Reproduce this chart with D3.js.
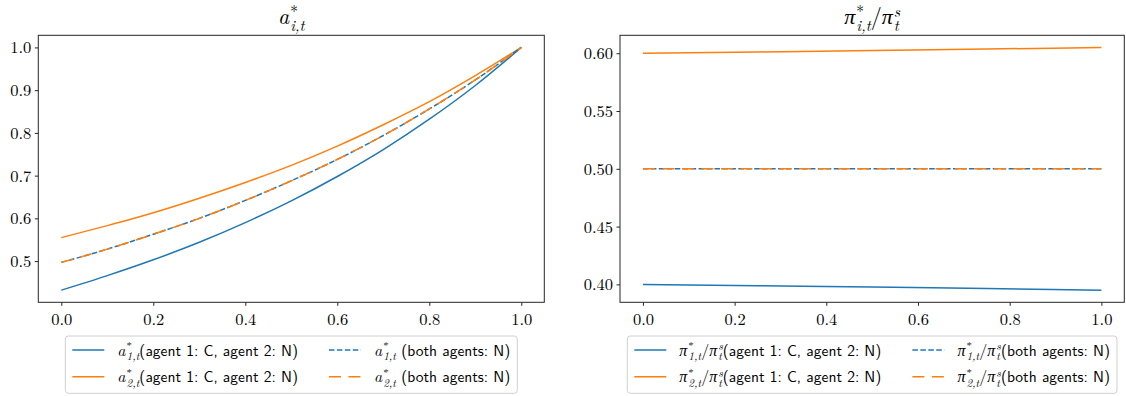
<!DOCTYPE html>
<html>
<head>
<meta charset="utf-8">
<script src="https://cdn.jsdelivr.net/npm/d3@7"></script>
<style>
  body { margin: 0; background: #fff; }
</style>
</head>
<body>
<svg id="chart" width="1126" height="396"></svg>
<script>
// ---- data ----
var tGrid = [0, 0.1, 0.2, 0.3, 0.4, 0.5, 0.6, 0.7, 0.8, 0.9, 1.0];
// a*_{i,t}
var a1_CN = [0.432, 0.466, 0.503, 0.544, 0.590, 0.641, 0.698, 0.761, 0.832, 0.911, 1.0];
var a2_CN = [0.555, 0.583, 0.613, 0.647, 0.684, 0.724, 0.769, 0.819, 0.873, 0.934, 1.0];
var a1_NN = [0.497, 0.528, 0.563, 0.600, 0.642, 0.688, 0.738, 0.794, 0.856, 0.924, 1.0];
var a2_NN = [0.497, 0.528, 0.563, 0.600, 0.642, 0.688, 0.738, 0.794, 0.856, 0.924, 1.0];

var tPi = [0, 0.25, 0.5, 0.75, 1.0];
// pi*_{i,t} / pi^s_t
var pi1_CN = [0.400, 0.3989, 0.3977, 0.3964, 0.395];
var pi2_CN = [0.600, 0.6011, 0.6023, 0.6036, 0.605];
var pi1_NN = [0.500, 0.500, 0.500, 0.500, 0.500];
var pi2_NN = [0.500, 0.500, 0.500, 0.500, 0.500];

var xTicks = [0, 0.2, 0.4, 0.6, 0.8, 1.0];
var aTicks = [0.5, 0.6, 0.7, 0.8, 0.9, 1.0];
var piTicks = [0.40, 0.45, 0.50, 0.55, 0.60];

var blue = "#1f77b4", orange = "#ff7f0e";
var serif = '"Latin Modern Roman", "Liberation Serif", serif';
var sans = '"Latin Modern Sans", "Liberation Sans", sans-serif';

var svg = d3.select("#chart");

// draw a run of text pieces (math-ish), returns width
function rich(g, x, y, pieces) {
  var cx = x, lastX = x;
  pieces.forEach(function(p) {
    var px = (p.stack ? lastX : cx) + (p.dx || 0);
    var t = g.append("text")
      .attr("x", px)
      .attr("y", y + (p.dy || 0))
      .style("font-family", p.sans ? sans : serif)
      .style("font-size", p.size + "px")
      .style("font-style", p.italic ? "italic" : "normal")
      .style("fill", "#000")
      .style("white-space", "pre")
      .text(p.t);
    var w = t.node().getComputedTextLength();
    if (p.stack) {
      cx = Math.max(cx, px + w);
    } else {
      lastX = px;
      cx = px + w;
    }
  });
  return cx - x;
}

function aSym(i, size) {
  var s = size * 0.7;
  return [
    {t: "a", italic: true, size: size},
    {t: "*", size: s, dy: -size * 0.34, dx: 1},
    {t: i + ",t", italic: true, size: s, dy: size * 0.3, stack: true}
  ];
}
function piSym(i, size) {
  var s = size * 0.7;
  return [
    {t: "π", italic: true, size: size},
    {t: "*", size: s, dy: -size * 0.34, dx: 1},
    {t: i + ",t", italic: true, size: s, dy: size * 0.3, stack: true},
    {t: "/", size: size},
    {t: "π", italic: true, size: size},
    {t: "s", italic: true, size: s, dy: -size * 0.34, dx: 1},
    {t: "t", italic: true, size: s, dy: size * 0.3, stack: true}
  ];
}
function txt(s) { return [{t: s, sans: true, size: 15.5}]; }

function drawPanel(o) {
  var x = d3.scaleLinear().domain([-0.05, 1.05]).range([o.left, o.right]);
  var y = d3.scaleLinear().domain(o.yDomain).range([o.bottom, o.top]);

  var g = svg.append("g");

  // lines
  var line = d3.line()
    .x(function(d) { return x(d.t); })
    .y(function(d) { return y(d.v); })
    .curve(d3.curveMonotoneX);

  o.series.forEach(function(s) {
    var pts = s.t.map(function(t, i) { return {t: t, v: s.values[i]}; });
    g.append("path")
      .attr("d", line(pts))
      .attr("fill", "none")
      .attr("stroke", s.color)
      .attr("stroke-width", 1.5)
      .attr("stroke-dasharray", s.dash || null);
  });

  // axes
  var xa = g.append("g")
    .attr("transform", "translate(0," + o.bottom + ")")
    .call(d3.axisBottom(x).tickValues(xTicks).tickFormat(d3.format(".1f")).tickSize(3.5).tickPadding(4));
  xa.select(".domain").remove();
  xa.selectAll(".tick text").attr("dy", "0.9em");

  var ya = g.append("g")
    .attr("transform", "translate(" + o.left + ",0)")
    .call(d3.axisLeft(y).tickValues(o.yTicks).tickFormat(d3.format(o.yFmt)).tickSize(3.5).tickPadding(3.5));
  ya.select(".domain").remove();
  ya.selectAll(".tick text").attr("dy", "0.33em");

  g.selectAll(".tick text")
    .attr("font-family", null).attr("font-size", null)
    .style("font-family", serif)
    .style("font-size", "16.5px")
    .style("fill", "#000");
  g.selectAll(".tick line").attr("stroke", "#262626");

  // frame
  g.append("rect")
    .attr("x", o.left).attr("y", o.top)
    .attr("width", o.right - o.left).attr("height", o.bottom - o.top)
    .attr("fill", "none").attr("stroke", "#262626").attr("stroke-width", 1);

  // title
  var tg = g.append("g");
  var tw = rich(tg, 0, 24, o.title);
  tg.attr("transform", "translate(" + ((o.left + o.right) / 2 - tw / 2) + ",0)");

  // legend
  var lg = g.append("g");
  var box = lg.append("rect")
    .attr("y", 336).attr("height", 57.3)
    .attr("rx", 3).attr("fill", "#fff")
    .attr("stroke", "#d0d0d0").attr("stroke-width", 1);
  var pad = 7, hLen = 32, hGap = 13, colGap = 31;
  var rowsY = [350, 376.7];
  var cx = pad;
  o.legend.forEach(function(col) {
    var maxW = 0;
    col.forEach(function(e, r) {
      lg.append("line")
        .attr("x1", cx).attr("x2", cx + hLen)
        .attr("y1", rowsY[r]).attr("y2", rowsY[r])
        .attr("stroke", e.color).attr("stroke-width", 1.5)
        .attr("stroke-dasharray", e.dash || null);
      var w = rich(lg, cx + hLen + hGap, rowsY[r] + 5.5, e.label);
      maxW = Math.max(maxW, w);
    });
    cx += hLen + hGap + maxW + colGap;
  });
  var boxW = cx - colGap + pad;
  box.attr("x", 0).attr("width", boxW);
  lg.attr("transform", "translate(" + ((o.left + o.right) / 2 - boxW / 2) + ",0)");
}

var dashB = "5.55,2.4", dashO = "12,7.5";

drawPanel({
  left: 38.3, right: 544.3, top: 35.3, bottom: 302.3,
  yDomain: [0.4036, 1.0284], yTicks: aTicks, yFmt: ".1f",
  title: aSym("i", 22),
  series: [
    {t: tGrid, values: a1_CN, color: blue},
    {t: tGrid, values: a2_CN, color: orange},
    {t: tGrid, values: a1_NN, color: blue, dash: dashB},
    {t: tGrid, values: a2_NN, color: orange, dash: dashO}
  ],
  legend: [
    [
      {color: blue, label: aSym("1", 16).concat(txt("(agent 1: C, agent 2: N)"))},
      {color: orange, label: aSym("2", 16).concat(txt("(agent 1: C, agent 2: N)"))}
    ],
    [
      {color: blue, dash: dashB, label: aSym("1", 16).concat(txt(" (both agents: N)"))},
      {color: orange, dash: dashO, label: aSym("2", 16).concat(txt(" (both agents: N)"))}
    ]
  ]
});

drawPanel({
  left: 620, right: 1124.3, top: 35.3, bottom: 302.3,
  yDomain: [0.3845, 0.6155], yTicks: piTicks, yFmt: ".2f",
  title: piSym("i", 22),
  series: [
    {t: tPi, values: pi1_CN, color: blue},
    {t: tPi, values: pi2_CN, color: orange},
    {t: tPi, values: pi1_NN, color: blue, dash: dashB},
    {t: tPi, values: pi2_NN, color: orange, dash: dashO}
  ],
  legend: [
    [
      {color: blue, label: piSym("1", 16).concat(txt("(agent 1: C, agent 2: N)"))},
      {color: orange, label: piSym("2", 16).concat(txt("(agent 1: C, agent 2: N)"))}
    ],
    [
      {color: blue, dash: dashB, label: piSym("1", 16).concat(txt("(both agents: N)"))},
      {color: orange, dash: dashO, label: piSym("2", 16).concat(txt("(both agents: N)"))}
    ]
  ]
});
</script>
</body>
</html>
